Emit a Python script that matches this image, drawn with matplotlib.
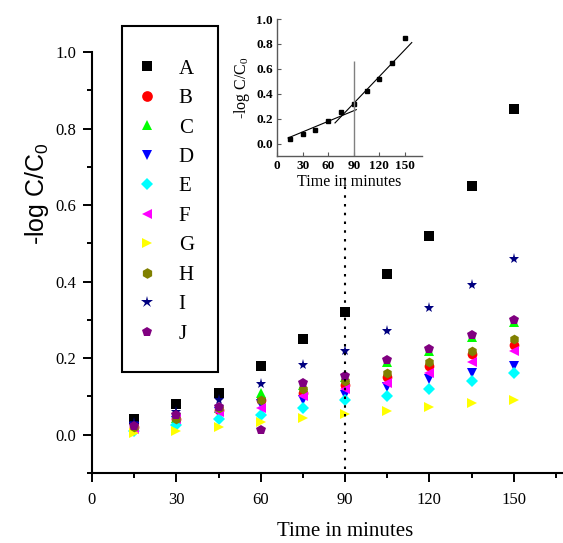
import numpy as np
import matplotlib
matplotlib.use('Agg')
import matplotlib.pyplot as plt
from matplotlib.ticker import MultipleLocator
from matplotlib.patches import Rectangle

times = [15, 30, 45, 60, 75, 90, 105, 120, 135, 150]
labels = ['A', 'B', 'C', 'D', 'E', 'F', 'G', 'H', 'I', 'J']
A = [0.04, 0.08, 0.11, 0.18, 0.25, 0.32, 0.42, 0.52, 0.65, 0.85]
B = [0.02, 0.04, 0.065, 0.09, 0.11, 0.13, 0.15, 0.18, 0.21, 0.235]
C = [0.02, 0.045, 0.07, 0.11, 0.13, 0.15, 0.19, 0.22, 0.255, 0.295]
D = [0.02, 0.035, 0.06, 0.08, 0.09, 0.105, 0.125, 0.145, 0.16, 0.18]
E = [0.01, 0.025, 0.042, 0.052, 0.07, 0.09, 0.10, 0.12, 0.14, 0.16]
F = [0.015, 0.04, 0.06, 0.07, 0.10, 0.12, 0.135, 0.16, 0.19, 0.22]
G = [0.005, 0.01, 0.021, 0.034, 0.043, 0.053, 0.063, 0.072, 0.082, 0.092]
H = [0.02, 0.04, 0.07, 0.092, 0.12, 0.14, 0.16, 0.19, 0.22, 0.25]
I = [0.03, 0.06, 0.09, 0.133, 0.183, 0.22, 0.27, 0.33, 0.39, 0.46]
J = [0.022, 0.052, 0.072, 0.013, 0.135, 0.154, 0.195, 0.224, 0.26, 0.30]
series = [A, B, C, D, E, F, G, H, I, J]

colors = ['black', 'red', '#00ff00', 'blue', 'cyan', 'magenta', 'yellow',
          '#808000', '#000080', '#800080']
markers = ['s', 'o', '^', 'v', 'D', '<', '>', 'h', '*', 'p']
sizes = [7, 7, 7, 7, 6, 7, 7, 7, 8, 7]

break_time = 90
# two straight-line fits of A in the inset (slope, intercept, x range)
fit1 = (0.00284, 0.008, 13, 93)
fit2 = (0.00717, -0.322, 68, 158)

serif = 'Liberation Serif'
sans = 'Liberation Sans'

fig = plt.figure(figsize=(5.63, 5.43), dpi=100)
ax = fig.add_axes([92 / 563, 70 / 543, 506 / 563, 421 / 543])

for vals, lab, c, m, s in zip(series, labels, colors, markers, sizes):
    ax.plot(times, vals, linestyle='none', marker=m, color=c, markersize=s,
            markeredgewidth=0, label=lab)

ax.vlines(break_time, -0.09, 0.68, colors='black', linestyles=(0, (1.2, 3)), linewidth=1.5)

ax.set_xlim(0, 180)
ax.set_ylim(-0.1, 1.0)
ax.set_xticks([0, 30, 60, 90, 120, 150])
ax.xaxis.set_minor_locator(MultipleLocator(15))
ax.set_yticks([0.0, 0.2, 0.4, 0.6, 0.8, 1.0])
ax.set_yticklabels(['0.0', '0.2', '0.4', '0.6', '0.8', '1.0'])
ax.yaxis.set_minor_locator(MultipleLocator(0.1))
ax.spines['top'].set_visible(False)
ax.spines['right'].set_visible(False)
for sp in ['left', 'bottom']:
    ax.spines[sp].set_linewidth(1.5)
ax.tick_params(which='major', direction='out', length=6.5, width=1.4, pad=7)
ax.tick_params(which='minor', direction='out', length=3.5, width=1.4)
for t in ax.get_xticklabels() + ax.get_yticklabels():
    t.set_fontfamily(serif)
    t.set_fontsize(12)
ax.tick_params(axis='y', pad=5)

ax.set_xlabel('Time in minutes', fontfamily=serif, fontsize=15, labelpad=10)
ax.set_ylabel('-log C/C$\\mathregular{_0}$', fontfamily=sans, fontsize=18)
ax.yaxis.set_label_coords(-0.082, 0.665)

leg = ax.legend(loc='upper left', bbox_to_anchor=(137 / 563, 484 / 543),
                bbox_transform=fig.transFigure, borderaxespad=0, borderpad=0,
                frameon=False, prop={'family': serif, 'size': 15},
                labelspacing=0.475, handlelength=1.0,
                handletextpad=1.0, markerscale=1.1)
fig.add_artist(Rectangle((122 / 563, 171 / 543), 96 / 563, 346 / 543,
                         transform=fig.transFigure, fill=False,
                         edgecolor='black', linewidth=1.5))

# inset
ins = fig.add_axes([277 / 563, 387 / 543, 145 / 563, 137 / 543])
ins.plot(times, A, linestyle='none', marker='s', color='black', markersize=2.5)
for slope, icpt, x0, x1 in [fit1, fit2]:
    xs = np.array([x0, x1])
    ins.plot(xs, slope * xs + icpt, color='black', linewidth=0.8)
ins.vlines(break_time, -0.1, 0.66, colors='0.5', linewidth=1.0)
ins.set_xlim(0, 170)
ins.set_ylim(-0.1, 1.0)
ins.set_xticks([0, 30, 60, 90, 120, 150])
ins.set_yticks([0.0, 0.2, 0.4, 0.6, 0.8, 1.0])
ins.set_yticklabels(['0.0', '0.2', '0.4', '0.6', '0.8', '1.0'])
ins.spines['top'].set_visible(False)
ins.spines['right'].set_visible(False)
for sp in ['left', 'bottom']:
    ins.spines[sp].set_color('0.35')
    ins.spines[sp].set_linewidth(1.0)
ins.tick_params(direction='in', length=3, width=0.8, color='0.35', pad=3)
for t in ins.get_xticklabels() + ins.get_yticklabels():
    t.set_fontfamily(serif)
    t.set_fontsize(9.5)
    t.set_fontweight('bold')
ins.set_xlabel('Time in minutes', fontfamily=serif, fontsize=11.5, labelpad=1)
ins.set_ylabel('-log C/C$\\mathregular{_0}$', fontfamily=serif, fontsize=11.5, labelpad=3)

fig.savefig('out.png', dpi=100)
